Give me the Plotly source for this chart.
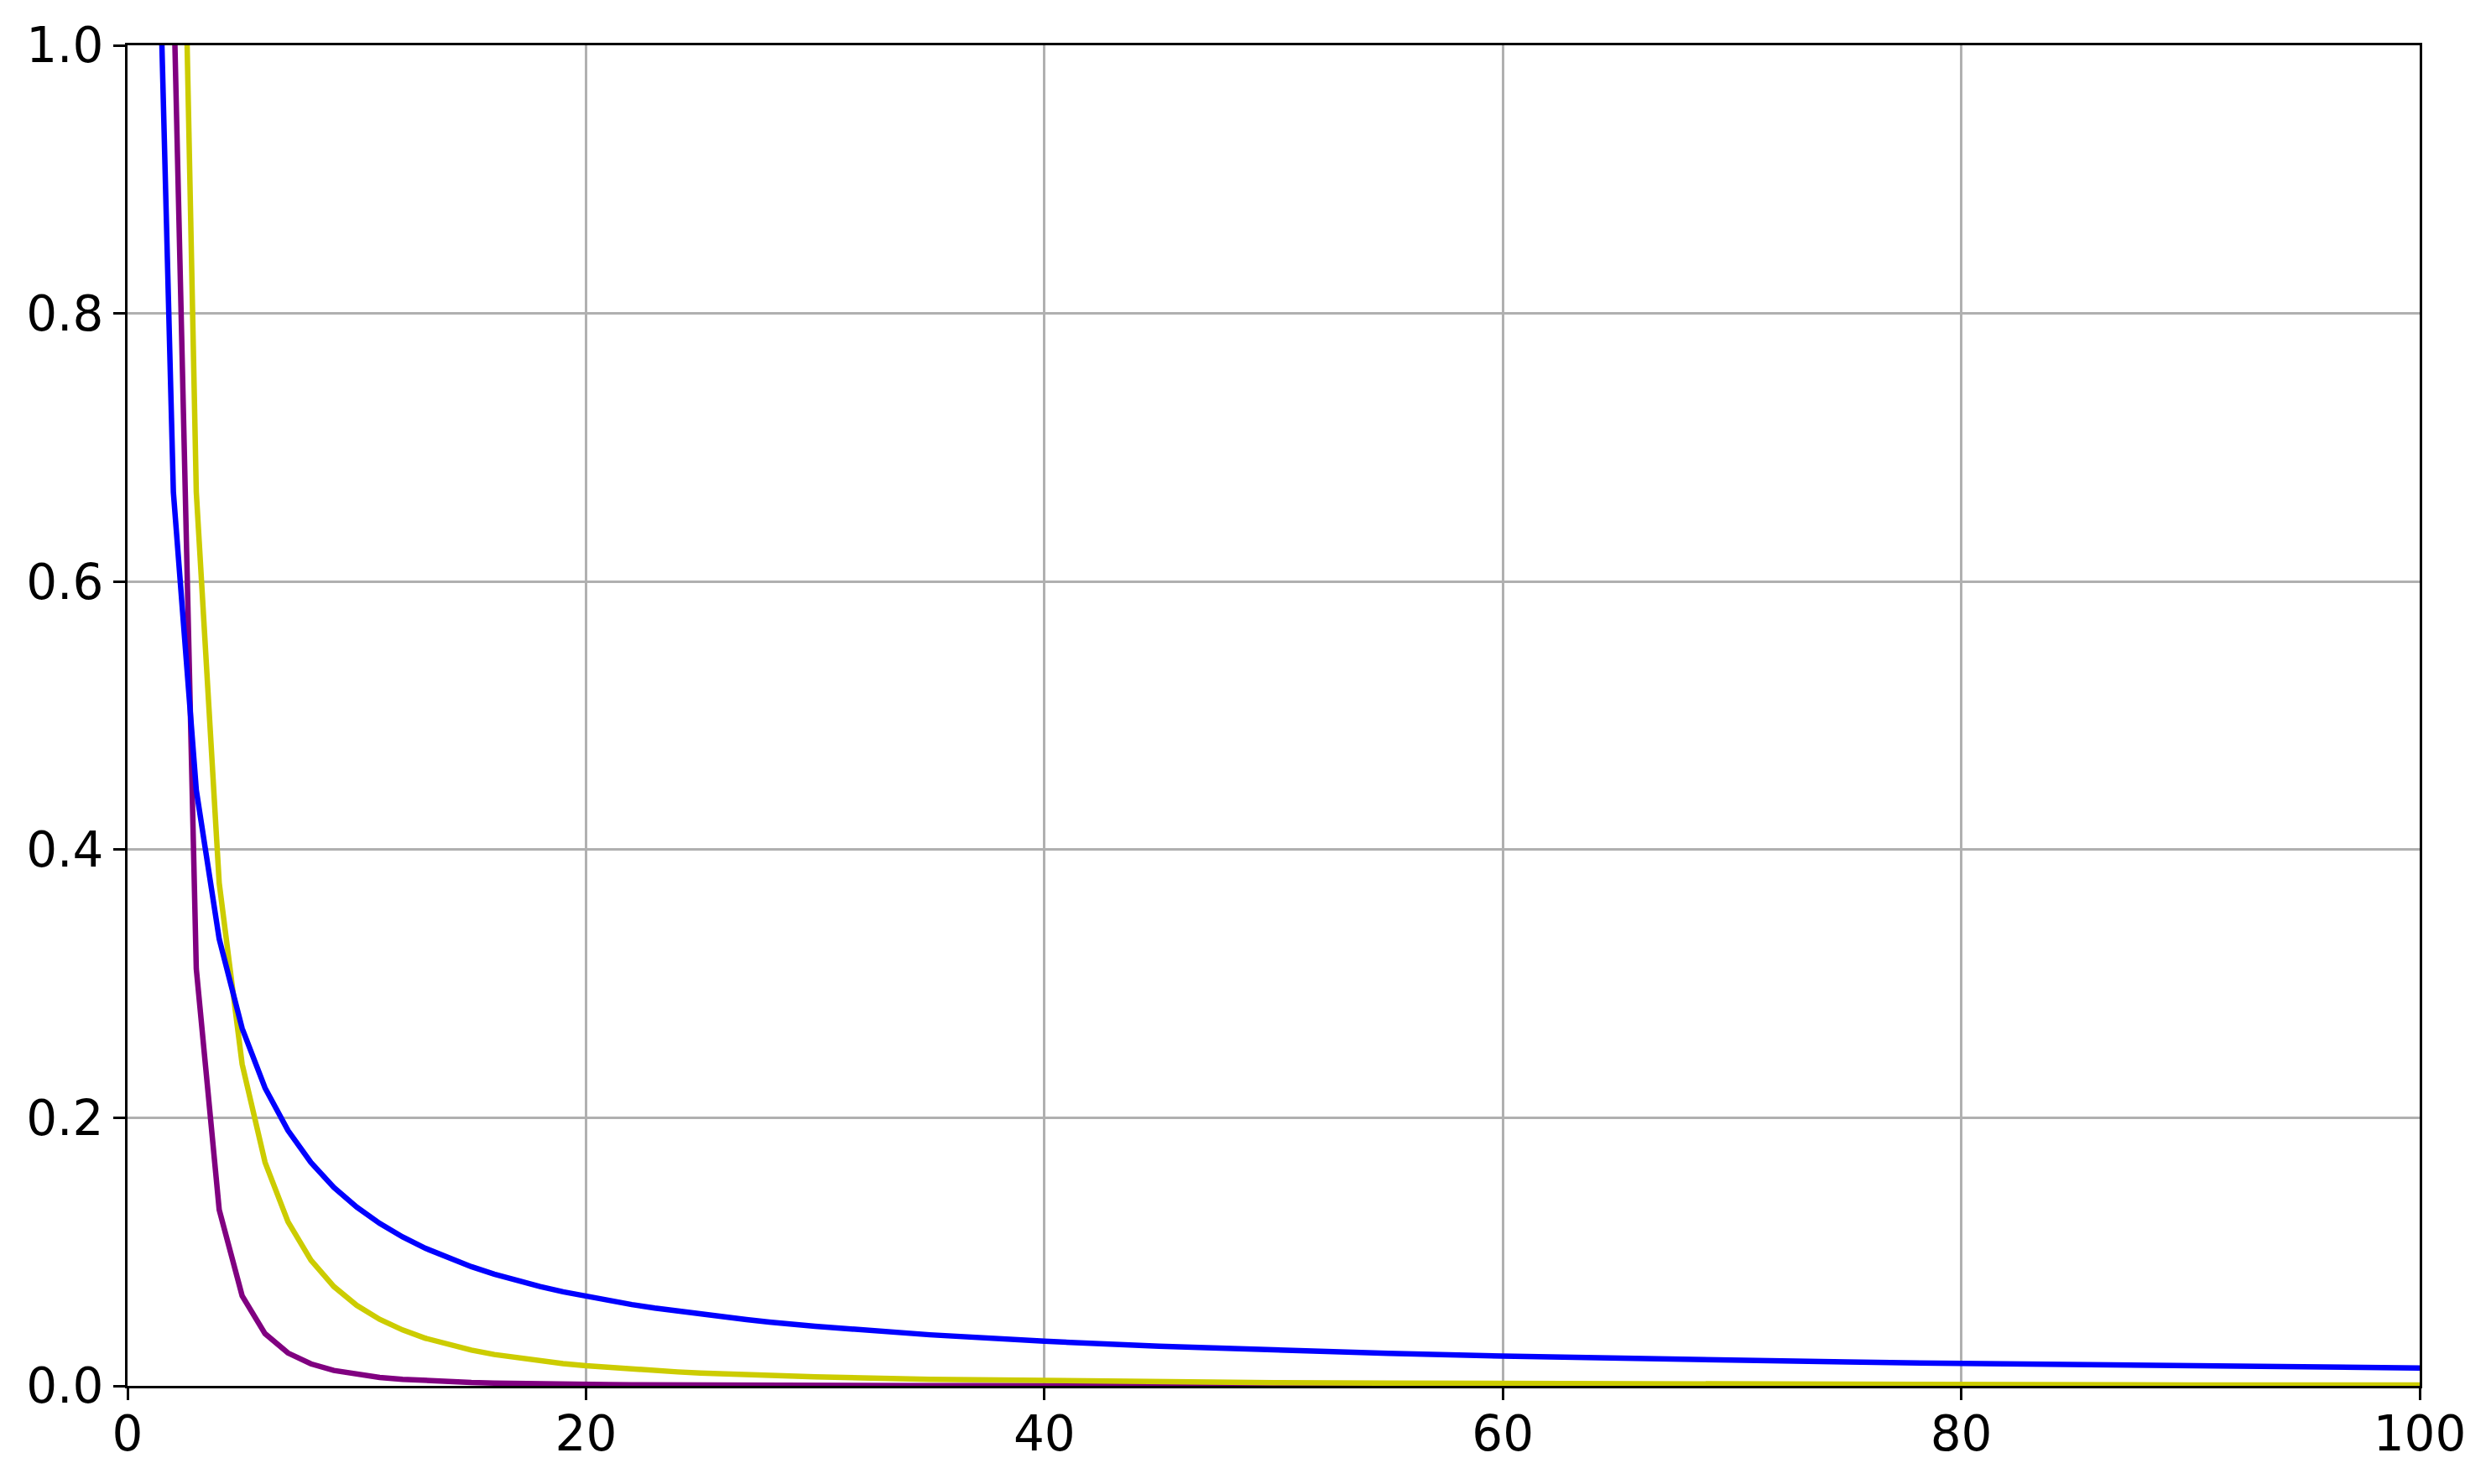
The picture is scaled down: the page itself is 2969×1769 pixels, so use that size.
import plotly.graph_objects as go

x_vals = list(range(1, 31)) + [35, 40, 45, 50, 55, 60, 65, 70, 75, 80, 85, 90, 95, 100]

blue_vals = [1.3333, 0.6667, 0.4444, 0.3333, 0.2667, 0.2222, 0.1905, 0.1667, 0.1481, 0.1333,
             0.1212, 0.1111, 0.1026, 0.0952, 0.0889, 0.0833, 0.0784, 0.0741, 0.0702, 0.0667,
             0.0635, 0.0606, 0.0580, 0.0556, 0.0533, 0.0513, 0.0494, 0.0476, 0.0460, 0.0444,
             0.0381, 0.0333, 0.0296, 0.0267, 0.0242, 0.0222, 0.0205, 0.0190, 0.0178, 0.0167,
             0.0157, 0.0148, 0.0140, 0.0133]

yellow_vals = [6.0, 1.5, 0.6667, 0.375, 0.24, 0.1667, 0.1224, 0.0938, 0.0741, 0.06,
               0.0496, 0.0417, 0.0355, 0.0306, 0.0267, 0.0234, 0.0208, 0.0185, 0.0166, 0.015,
               0.0136, 0.0124, 0.0113, 0.0104, 0.0096, 0.0089, 0.0082, 0.0077, 0.0071, 0.0067,
               0.0049, 0.0038, 0.0030, 0.0024, 0.0020, 0.0017, 0.0014, 0.0012, 0.0011, 0.0009,
               0.0008, 0.0007, 0.0007, 0.0006]

purple_vals = [8.4, 1.05, 0.3111, 0.1313, 0.0672, 0.0389, 0.0245, 0.0164, 0.0115, 0.0084,
               0.0063, 0.0049, 0.0038, 0.0031, 0.0025, 0.0021, 0.0017, 0.0014, 0.0012, 0.0011,
               0.0009, 0.0008, 0.0007, 0.0006, 0.0005, 0.0005, 0.0004, 0.0004, 0.0003, 0.0003,
               0.0002, 0.0001, 0.0001, 0.0001, 0.0001, 0.0, 0.0, 0.0, 0.0, 0.0,
               0.0, 0.0, 0.0, 0.0]

x_ticks = [0, 20, 40, 60, 80, 100]
y_ticks = [0.0, 0.2, 0.4, 0.6, 0.8, 1.0]

fig = go.Figure()
fig.add_trace(go.Scatter(x=x_vals, y=purple_vals, mode="lines",
                         line=dict(color="#800080", width=6.5), showlegend=False))
fig.add_trace(go.Scatter(x=x_vals, y=yellow_vals, mode="lines",
                         line=dict(color="#cccc00", width=6.5), showlegend=False))
fig.add_trace(go.Scatter(x=x_vals, y=blue_vals, mode="lines",
                         line=dict(color="#0000ff", width=6.5), showlegend=False))

axis_common = dict(
    showline=True, linecolor="black", linewidth=3, mirror=True,
    showgrid=True, gridcolor="#b0b0b0", gridwidth=3,
    ticks="outside", ticklen=14, tickwidth=3, tickcolor="black",
    zeroline=False,
    tickfont=dict(family="DejaVu Sans", size=58, color="black"),
)

fig.update_xaxes(range=[0, 100], tickvals=x_ticks, ticklabelstandoff=-10, **axis_common)
fig.update_yaxes(range=[0, 1], tickvals=y_ticks, tickformat=".1f", ticklabelstandoff=0, **axis_common)

fig.update_layout(
    width=2953, height=1753,
    margin=dict(l=144, r=77, t=44, b=109),
    plot_bgcolor="white", paper_bgcolor="white",
    font=dict(family="DejaVu Sans", color="black"),
)

fig.write_html("out.html")
